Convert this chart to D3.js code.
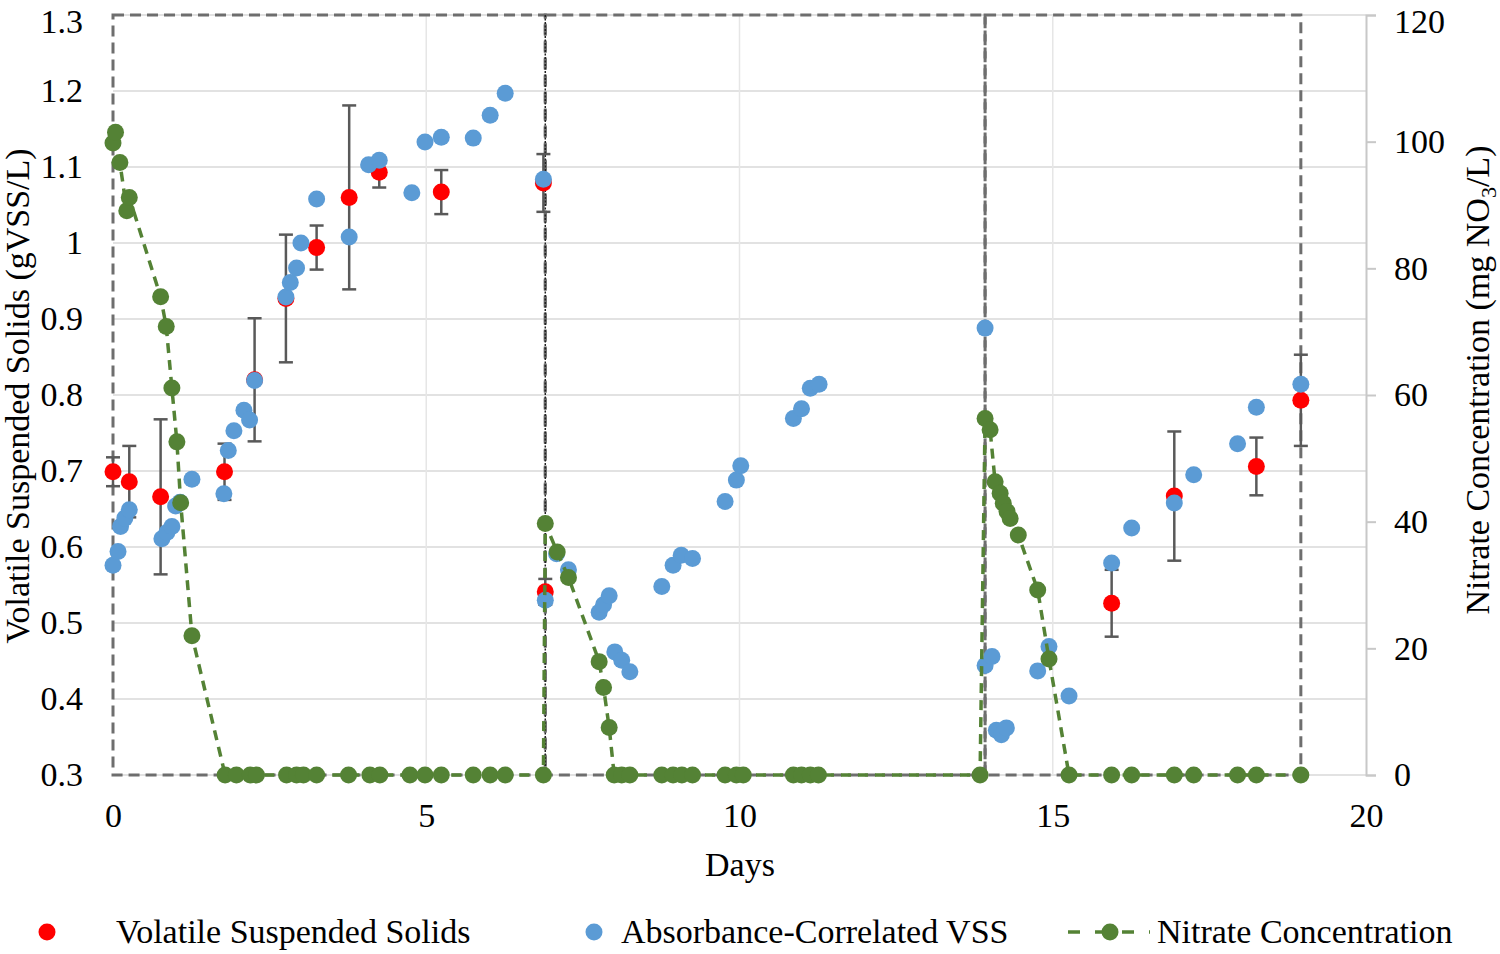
<!DOCTYPE html>
<html>
<head>
<meta charset="utf-8">
<script src="https://cdn.jsdelivr.net/npm/d3@7"></script>
<style>
  html, body { margin: 0; padding: 0; background: #fff; }
  svg { display: block; }
  text { font-family: "Liberation Serif", "Times New Roman", serif; fill: #000; }
</style>
</head>
<body>
<svg id="chart" width="1500" height="954"></svg>
<script>
// ---- Data ----
const vssDays   = [0.00, 0.26, 0.76, 1.78, 2.26, 2.76, 3.25, 3.77, 4.25, 5.24, 6.87, 6.90, 15.94, 16.94, 18.25, 18.96];
const vssValues = [0.699, 0.686, 0.666, 0.699, 0.820, 0.927, 0.994, 1.060, 1.093, 1.067, 1.079, 0.541, 0.526, 0.667, 0.706, 0.793];
const vssErrors = [0.019, 0.047, 0.102, 0.037, 0.081, 0.084, 0.029, 0.121, 0.020, 0.029, 0.038, 0.017, 0.044, 0.085, 0.038, 0.060];

const acvDays   = [0.00, 0.08, 0.12, 0.19, 0.26, 0.78, 0.86, 0.94, 1.00, 1.07, 1.26, 1.77, 1.84, 1.93, 2.09, 2.18, 2.26,
                   2.76, 2.83, 2.93, 3.00, 3.25, 3.77, 4.08, 4.25, 4.77, 4.98, 5.24, 5.75, 6.02, 6.26, 6.87,
                   6.90, 7.08, 7.27, 7.76, 7.83, 7.92, 8.01, 8.12, 8.25, 8.76, 8.94, 9.07, 9.25, 9.77, 9.95, 10.02,
                   10.86, 10.99, 11.13, 11.27,
                   13.92, 13.92, 14.03, 14.10, 14.18, 14.26, 14.76, 14.94, 15.26, 15.94, 16.26, 16.94, 17.25, 17.95, 18.25, 18.96];
const acvValues = [0.576, 0.594, 0.627, 0.638, 0.649, 0.611, 0.619, 0.627, 0.654, 0.659, 0.689, 0.670, 0.727, 0.753, 0.780, 0.767, 0.819,
                   0.929, 0.948, 0.967, 1.000, 1.058, 1.008, 1.103, 1.109, 1.066, 1.133, 1.139, 1.138, 1.168, 1.197, 1.084,
                   0.530, 0.591, 0.570, 0.514, 0.524, 0.536, 0.462, 0.451, 0.436, 0.548, 0.576, 0.589, 0.585, 0.660, 0.688, 0.707,
                   0.769, 0.782, 0.809, 0.814,
                   0.888, 0.444, 0.456, 0.359, 0.353, 0.362, 0.437, 0.469, 0.404, 0.579, 0.625, 0.658, 0.695, 0.736, 0.784, 0.814];

const nitDays   = [0.00, 0.04, 0.11, 0.22, 0.26, 0.76, 0.85, 0.94, 1.02, 1.08, 1.26,
                   1.79, 1.97, 2.19, 2.29, 2.77, 2.93, 3.04, 3.25, 3.76, 4.10, 4.26, 4.74, 4.98, 5.24, 5.75, 6.02, 6.26, 6.87,
                   6.90, 7.09, 7.27, 7.76, 7.83, 7.92,
                   8.00, 8.12, 8.25, 8.76, 8.94, 9.08, 9.25, 9.77, 9.95, 10.06, 10.86, 10.99, 11.13, 11.26, 13.84,
                   13.92, 14.00, 14.08, 14.16, 14.21, 14.27, 14.32, 14.45, 14.76, 14.94,
                   15.26, 15.94, 16.26, 16.94, 17.25, 17.95, 18.25, 18.96];
const nitValues = [99.8, 101.5, 96.7, 89.1, 91.2, 75.5, 70.8, 61.1, 52.6, 43.0, 22.0,
                   0, 0, 0, 0, 0, 0, 0, 0, 0, 0, 0, 0, 0, 0, 0, 0, 0, 0,
                   39.7, 35.2, 31.2, 17.9, 13.8, 7.5,
                   0, 0, 0, 0, 0, 0, 0, 0, 0, 0, 0, 0, 0, 0, 0,
                   56.3, 54.5, 46.3, 44.5, 42.9, 41.6, 40.5, 37.9, 29.2, 18.3,
                   0, 0, 0, 0, 0, 0, 0, 0];

const phaseBounds = [0, 6.9, 13.92, 18.96];
const xTicks      = [0, 5, 10, 15, 20];
const yLeftTicks  = [0.3, 0.4, 0.5, 0.6, 0.7, 0.8, 0.9, 1.0, 1.1, 1.2, 1.3];
const yRightTicks = [0, 20, 40, 60, 80, 100, 120];
const legendLabels = ["Volatile Suspended Solids", "Absorbance-Correlated VSS", "Nitrate Concentration"];

// ---- Layout ----
const FONT = '"Liberation Serif", "Times New Roman", serif';
const FS = "34px";
const svg = d3.select("#chart");
const x  = d3.scaleLinear().domain([0, 20]).range([113, 1366]);
const yL = d3.scaleLinear().domain([0.3, 1.3]).range([775, 15]);
const yR = d3.scaleLinear().domain([0, 120]).range([775, 15]);

const RED = "#FF0000", BLUE = "#5B9BD5", GREEN = "#548235", GRID = "#d9d9d9", BOX = "#6e6e6e";
const R = 8.5;

// gridlines
const g = svg.append("g");
g.selectAll("line.h").data(yLeftTicks).join("line")
  .attr("x1", x(0)).attr("x2", x(20))
  .attr("y1", d => yL(d)).attr("y2", d => yL(d))
  .attr("stroke", GRID).attr("stroke-width", 1.5);
g.selectAll("line.v").data(xTicks.filter(d => d > 0 && d < 20)).join("line")
  .attr("x1", d => x(d)).attr("x2", d => x(d))
  .attr("y1", yL(1.3)).attr("y2", yL(0.3))
  .attr("stroke", "#e6e6e6").attr("stroke-width", 1.5);

// right axis
const rightAxis = d3.axisRight(yR).tickValues(yRightTicks).tickSize(10).tickPadding(18);
const ra = svg.append("g").attr("transform", `translate(${x(20)},0)`).call(rightAxis);
ra.select(".domain").attr("stroke", "#c8c8c8").attr("stroke-width", 2);
ra.selectAll(".tick line").attr("stroke", "#c8c8c8").attr("stroke-width", 2);
ra.selectAll(".tick text").style("font-size", FS).attr("fill", "#000").style("font-family", FONT)
  .attr("dy", d => d === 120 ? "0.5em" : "0.32em");

// left axis (labels only)
const leftAxis = d3.axisLeft(yL).tickValues(yLeftTicks).tickSize(0).tickPadding(30)
  .tickFormat(d => String(+d.toFixed(1)));
const la = svg.append("g").attr("transform", `translate(${x(0)},0)`).call(leftAxis);
la.select(".domain").remove();
la.selectAll(".tick text").style("font-size", FS).attr("fill", "#000").style("font-family", FONT)
  .attr("dy", d => d === 1.3 ? "0.5em" : "0.32em");

// bottom axis (labels only)
const bottomAxis = d3.axisBottom(x).tickValues(xTicks).tickSize(0).tickPadding(28);
const ba = svg.append("g").attr("transform", `translate(0,${yL(0.3)})`).call(bottomAxis);
ba.select(".domain").remove();
ba.selectAll(".tick text").style("font-size", FS).attr("fill", "#000").style("font-family", FONT);

// phase boxes (dashed)
const phases = d3.pairs(phaseBounds);
svg.append("g").selectAll("rect").data(phases).join("rect")
  .attr("x", d => x(d[0])).attr("width", d => x(d[1]) - x(d[0]))
  .attr("y", yL(1.3)).attr("height", yL(0.3) - yL(1.3))
  .attr("fill", "none").attr("stroke", BOX).attr("stroke-width", 3)
  .attr("stroke-dasharray", "11,6");
svg.append("line")
  .attr("x1", x(phaseBounds[1])).attr("x2", x(phaseBounds[1]))
  .attr("y1", yL(1.3)).attr("y2", yL(0.3))
  .attr("stroke", "#222").attr("stroke-width", 1.5).attr("stroke-dasharray", "2,1.5");

// VSS error bars + points
const vss = vssDays.map((d, i) => ({ d, v: vssValues[i], e: vssErrors[i] }));
const eb = svg.append("g").attr("stroke", "#595959").attr("stroke-width", 2.5);
eb.selectAll("line.s").data(vss).join("line")
  .attr("x1", d => x(d.d)).attr("x2", d => x(d.d))
  .attr("y1", d => yL(d.v - d.e)).attr("y2", d => yL(d.v + d.e));
eb.selectAll("line.t").data(vss).join("line")
  .attr("x1", d => x(d.d) - 7).attr("x2", d => x(d.d) + 7)
  .attr("y1", d => yL(d.v + d.e)).attr("y2", d => yL(d.v + d.e));
eb.selectAll("line.b").data(vss).join("line")
  .attr("x1", d => x(d.d) - 7).attr("x2", d => x(d.d) + 7)
  .attr("y1", d => yL(d.v - d.e)).attr("y2", d => yL(d.v - d.e));
svg.append("g").selectAll("circle").data(vss).join("circle")
  .attr("cx", d => x(d.d)).attr("cy", d => yL(d.v)).attr("r", R).attr("fill", RED);

// Absorbance-correlated VSS
const acv = acvDays.map((d, i) => ({ d, v: acvValues[i] }));
svg.append("g").selectAll("circle").data(acv).join("circle")
  .attr("cx", d => x(d.d)).attr("cy", d => yL(d.v)).attr("r", R).attr("fill", BLUE);

// Nitrate
const nit = nitDays.map((d, i) => ({ d, v: nitValues[i] }));
svg.append("path").datum(nit)
  .attr("d", d3.line().x(d => x(d.d)).y(d => yR(d.v)))
  .attr("fill", "none").attr("stroke", GREEN).attr("stroke-width", 3.5)
  .attr("stroke-dasharray", "10,7");
svg.append("g").selectAll("circle").data(nit).join("circle")
  .attr("cx", d => x(d.d)).attr("cy", d => yR(d.v)).attr("r", R).attr("fill", GREEN);

// axis titles
svg.append("text").attr("x", 740).attr("y", 876).attr("text-anchor", "middle")
  .style("font-size", FS).text("Days");
svg.append("text").attr("transform", "translate(29,396) rotate(-90)").attr("text-anchor", "middle")
  .style("font-size", FS).text("Volatile Suspended Solids (gVSS/L)");
const rt = svg.append("text").attr("transform", "translate(1489,380) rotate(-90)").attr("text-anchor", "middle")
  .style("font-size", FS);
rt.append("tspan").text("Nitrate Concentration (mg NO");
rt.append("tspan").attr("dy", 7).style("font-size", "22px").text("3");
rt.append("tspan").attr("dy", -7).text("/L)");

// legend
const ly = 932;
const leg = svg.append("g").style("font-size", FS);
leg.append("circle").attr("cx", 47).attr("cy", ly).attr("r", R).attr("fill", RED);
leg.append("text").attr("x", 116).attr("y", ly + 11).text(legendLabels[0]);
leg.append("circle").attr("cx", 594).attr("cy", ly).attr("r", R).attr("fill", BLUE);
leg.append("text").attr("x", 621).attr("y", ly + 11).text(legendLabels[1]);
leg.append("line").attr("x1", 1068).attr("x2", 1150).attr("y1", ly).attr("y2", ly)
  .attr("stroke", GREEN).attr("stroke-width", 3.5).attr("stroke-dasharray", "12,15");
leg.append("circle").attr("cx", 1110).attr("cy", ly).attr("r", R).attr("fill", GREEN);
leg.append("text").attr("x", 1157).attr("y", ly + 11).text(legendLabels[2]);
</script>
</body>
</html>
